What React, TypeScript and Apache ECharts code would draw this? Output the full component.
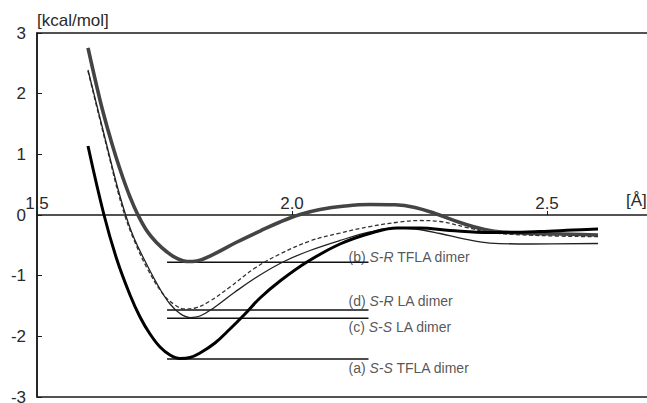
import React, { useEffect, useRef } from "react";
import * as echarts from "echarts";

// Interatomic distance [Å] and energy [kcal/mol]
// (a) S-S TFLA dimer
const xA = [1.600, 1.6314, 1.6569, 1.6824, 1.7020, 1.7216, 1.7412, 1.7608, 1.7804, 1.8000, 1.8196, 1.8490, 1.8784, 1.9078, 1.9373, 1.9765, 2.0294, 2.0941, 2.1588, 2.2059, 2.2510, 2.3098, 2.3882, 2.4863, 2.5510, 2.6000];
const yA = [1.137, 0.0, -0.742, -1.319, -1.681, -1.962, -2.176, -2.308, -2.365, -2.349, -2.275, -2.110, -1.879, -1.632, -1.368, -1.088, -0.775, -0.478, -0.288, -0.214, -0.214, -0.255, -0.288, -0.272, -0.247, -0.231];

// (b) S-R TFLA dimer
const xB = [1.6000, 1.6235, 1.6392, 1.6549, 1.6686, 1.6824, 1.6961, 1.7157, 1.7353, 1.7549, 1.7745, 1.7941, 1.8137, 1.8392, 1.8922, 1.9373, 1.9765, 2.0157, 2.0549, 2.1039, 2.1529, 2.2020, 2.2412, 2.2804, 2.3294, 2.3882, 2.4471, 2.5255, 2.6000];
const yB = [2.753, 1.896, 1.401, 0.956, 0.610, 0.297, 0.033, -0.264, -0.462, -0.610, -0.717, -0.767, -0.758, -0.676, -0.445, -0.264, -0.115, 0.008, 0.091, 0.148, 0.173, 0.168, 0.124, 0.025, -0.124, -0.256, -0.297, -0.313, -0.330];

// (c) S-S LA dimer
const xC = [1.6000, 1.6235, 1.6431, 1.6588, 1.6745, 1.6902, 1.7157, 1.7412, 1.7608, 1.7804, 1.8000, 1.8196, 1.8490, 1.8882, 1.9373, 1.9863, 2.0353, 2.0941, 2.1529, 2.2020, 2.2412, 2.2902, 2.3392, 2.3882, 2.4667, 2.6000];
const yC = [2.390, 1.599, 0.940, 0.429, -0.016, -0.379, -0.824, -1.220, -1.467, -1.624, -1.690, -1.665, -1.516, -1.269, -0.989, -0.758, -0.585, -0.420, -0.280, -0.214, -0.231, -0.305, -0.396, -0.462, -0.478, -0.470];

// (d) S-R LA dimer
const xD = [1.6000, 1.6235, 1.6431, 1.6588, 1.6745, 1.6902, 1.7157, 1.7471, 1.7706, 1.7902, 1.8098, 1.8392, 1.8784, 1.9275, 1.9765, 2.0353, 2.0941, 2.1529, 2.2118, 2.2510, 2.2902, 2.3392, 2.3882, 2.4863, 2.6000];
const yD = [2.374, 1.566, 0.907, 0.379, -0.066, -0.412, -0.874, -1.302, -1.484, -1.549, -1.533, -1.418, -1.187, -0.874, -0.643, -0.429, -0.297, -0.190, -0.115, -0.091, -0.107, -0.198, -0.288, -0.338, -0.358];

// Minimum-energy levels drawn as horizontal lines
const levelNames = ["b", "d", "c", "a"];
const levelValues = [-0.78, -1.565, -1.70, -2.375];
const levelExtent = [1.755, 2.15];
const levelLabels = [
  "{n|(b) }{i|S-R}{n| TFLA dimer}",
  "{n|(d) }{i|S-R}{n| LA dimer}",
  "{n|(c) }{i|S-S}{n| LA dimer}",
  "{n|(a) }{i|S-S}{n| TFLA dimer}",
];
const levelLabelDy = [-5, -8.5, 8.5, 8.5];

const xTicks = [1.5, 2.0, 2.5];
const xTickLabels = ["1.5", "2.0", "2.5"];

const FONT = "Liberation Sans, Arial, Helvetica, sans-serif";
const GRID_TOP = 33;
const GRID_BOTTOM = 6;
const CHART_H = 403;

const zip = (xs: number[], ys: number[]) => xs.map((x, i) => [x, ys[i]]);

export default function App() {
  const ref = useRef<HTMLDivElement>(null);
  useEffect(() => {
    if (!ref.current) return;
    const chart = echarts.init(ref.current, undefined, { renderer: "svg" });
    const curveBase = {
      type: "line",
      smooth: 0.4,
      symbol: "none",
      silent: true,
    };
    const series: any[] = [
      { ...curveBase, name: "b", data: zip(xB, yB), lineStyle: { color: "#444", width: 3.6 }, z: 3 },
      { ...curveBase, name: "d", data: zip(xD, yD), lineStyle: { color: "#333", width: 1.3, type: [4, 2.5] }, z: 3 },
      { ...curveBase, name: "c", data: zip(xC, yC), lineStyle: { color: "#222", width: 1.3 }, z: 3 },
      { ...curveBase, name: "a", data: zip(xA, yA), lineStyle: { color: "#000", width: 3 }, z: 4 },
    ];
    levelValues.forEach((v, i) => {
      series.push({
        type: "line",
        name: "level-" + levelNames[i],
        symbol: "none",
        silent: true,
        data: levelExtent.map((x) => [x, v]),
        lineStyle: { color: "#111", width: 1.5 },
        z: 2,
      });
    });
    series.push({
      type: "scatter",
      symbolSize: 0,
      silent: true,
      z: 5,
      data: levelValues.map((v, i) => ({
        value: [levelExtent[1], v],
        label: {
          show: true,
          position: "right",
          distance: 0,
          offset: [-20, levelLabelDy[i]],
          formatter: levelLabels[i],
          rich: {
            n: { fontSize: 14, fontFamily: FONT, color: "#2a2a2a" },
            i: { fontSize: 14, fontFamily: FONT, color: "#2a2a2a", fontStyle: "italic" },
          },
        },
      })),
    });

    const yMin = -3;
    const yMax = 3;
    const plotH = CHART_H - GRID_TOP - GRID_BOTTOM;
    // place the x axis (drawn from the top edge) on the zero line
    const zeroOffset = -(plotH * (yMax - 0)) / (yMax - yMin);

    chart.setOption({
      animation: false,
      backgroundColor: "#fff",
      grid: {
        left: 37,
        right: -2,
        top: GRID_TOP,
        bottom: GRID_BOTTOM,
        show: true,
        borderColor: "#1a1a1a",
        borderWidth: 1.5,
        containLabel: false,
        outerBoundsMode: "none",
      },
      xAxis: {
        type: "value",
        position: "top",
        offset: zeroOffset,
        min: 1.5,
        max: 2.7,
        interval: 0.5,
        axisLine: { onZero: false, lineStyle: { color: "#1a1a1a", width: 1.5 } },
        axisTick: { inside: false, length: 4, customValues: xTicks, lineStyle: { color: "#1a1a1a" } },
        axisLabel: {
          inside: false,
          margin: 3,
          customValues: xTicks,
          formatter: (v: number) => {
            const k = xTicks.findIndex((t) => Math.abs(t - v) < 1e-6);
            return k >= 0 ? xTickLabels[k] : "";
          },
          color: "#2a2a2a",
          fontSize: 17,
          fontFamily: FONT,
        },
        splitLine: { show: false },
      },
      yAxis: {
        type: "value",
        min: yMin,
        max: yMax,
        interval: 1,
        axisLine: { show: true, onZero: false, lineStyle: { color: "#1a1a1a", width: 1.5 } },
        axisTick: { show: true, inside: true, length: 5, lineStyle: { color: "#1a1a1a" } },
        axisLabel: {
          margin: 11,
          color: "#2a2a2a",
          fontSize: 17,
          fontFamily: FONT,
          padding: [5, 0, 0, 0],
        },
        splitLine: { show: false },
      },
      graphic: [
        { type: "text", left: 37, top: 12, style: { text: "[kcal/mol]", fontSize: 17, fontFamily: FONT, fill: "#2a2a2a" } },
        { type: "text", left: 626, top: 192, style: { text: "[Å]", fontSize: 17, fontFamily: FONT, fill: "#2a2a2a" } },
      ],
      series,
    });
    return () => chart.dispose();
  }, []);
  return <div ref={ref} style={{ width: 647, height: 403, position: "absolute", left: 0, top: 0 }} />;
}
